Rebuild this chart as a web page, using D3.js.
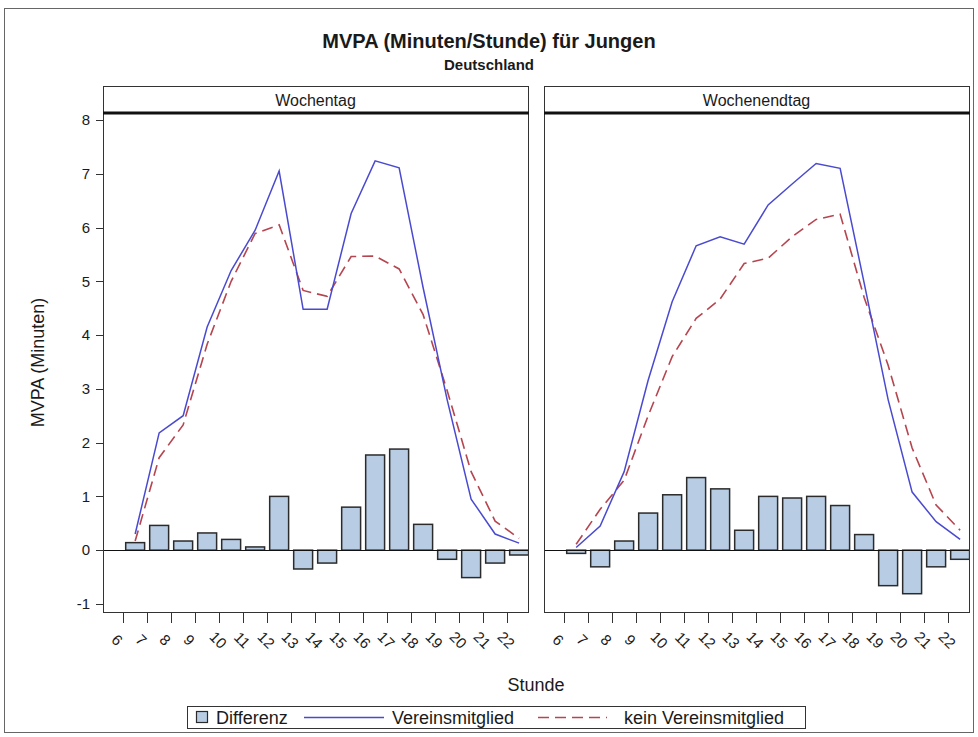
<!DOCTYPE html>
<html><head><meta charset="utf-8">
<script src="https://cdn.jsdelivr.net/npm/d3@7"></script>
<style>body{margin:0;background:#fff;}svg{display:block;font-family:"Liberation Sans",Arial,sans-serif;}</style>
</head><body>
<svg id="c" width="978" height="737"></svg>
<script>
const hours = [6,7,8,9,10,11,12,13,14,15,16,17,18,19,20,21,22];
const yTicks = [-1,0,1,2,3,4,5,6,7,8];
const panels = ["Wochentag","Wochenendtag"];
// Wochentag
const wtVerein = [0.30,2.18,2.50,4.15,5.20,5.95,7.05,4.48,4.48,6.26,7.24,7.11,4.88,2.80,0.95,0.30,0.13];
const wtKein   = [0.17,1.72,2.33,3.83,5.00,5.89,6.05,4.83,4.72,5.46,5.47,5.23,4.38,2.97,1.46,0.54,0.22];
const wtDiff   = [0.14,0.46,0.17,0.32,0.20,0.06,1.00,-0.35,-0.24,0.80,1.77,1.88,0.48,-0.17,-0.51,-0.24,-0.09];
// Wochenendtag
const weVerein = [0.05,0.45,1.46,3.16,4.62,5.66,5.83,5.69,6.42,6.81,7.19,7.10,4.97,2.80,1.08,0.53,0.20];
const weKein   = [0.11,0.76,1.30,2.50,3.60,4.31,4.67,5.33,5.43,5.83,6.15,6.25,4.70,3.44,1.90,0.84,0.37];
const weDiff   = [-0.06,-0.31,0.17,0.69,1.03,1.35,1.14,0.37,1.00,0.97,1.00,0.83,0.29,-0.66,-0.81,-0.31,-0.17];
const title = "MVPA (Minuten/Stunde) für Jungen";
const subtitle = "Deutschland";
const yLabel = "MVPA (Minuten)";
const xLabel = "Stunde";
const legendLabels = ["Differenz","Vereinsmitglied","kein Vereinsmitglied"];

const data = [
  {name: panels[0], verein: wtVerein, kein: wtKein, diff: wtDiff},
  {name: panels[1], verein: weVerein, kein: weKein, diff: weDiff}
];

const svg = d3.select("#c");
const barFill = "#b8cde4", barStroke = "#2b2b2b", blue = "#4a4ad0", red = "#b5454f";
const frameColor = "#333", textColor = "#1a1a1a";

svg.append("rect").attr("x",4.5).attr("y",8.5).attr("width",969).attr("height",724)
  .attr("fill","none").attr("stroke","#666").attr("stroke-width",1);

svg.append("text").attr("x",489).attr("y",48).attr("text-anchor","middle")
  .attr("font-weight","bold").attr("font-size",20).attr("fill",textColor).text(title);
svg.append("text").attr("x",489).attr("y",70).attr("text-anchor","middle")
  .attr("font-weight","bold").attr("font-size",15).attr("fill",textColor).text(subtitle);

const plotTop = 113, plotBottom = 612, stripTop = 86;
const panelX = [103, 544], panelW = 425;
const y = d3.scaleLinear().domain([-1.15, 8.13]).range([plotBottom, plotTop]);

data.forEach((p, i) => {
  const x0 = panelX[i];
  const x = d3.scaleLinear().domain([5.16, 22.87]).range([x0, x0 + panelW]);
  const g = svg.append("g");
  const cid = "clip" + i;
  svg.append("clipPath").attr("id", cid).append("rect")
    .attr("x", x0).attr("y", plotTop).attr("width", panelW).attr("height", plotBottom - plotTop);
  const pg = g.append("g").attr("clip-path", `url(#${cid})`);
  g.append("rect").attr("x", x0 + 0.5).attr("y", stripTop + 0.5).attr("width", panelW).attr("height", plotTop - stripTop)
    .attr("fill", "#fff").attr("stroke", frameColor);
  g.append("text").attr("x", x0 + panelW / 2).attr("y", stripTop + 20).attr("text-anchor", "middle")
    .attr("font-size", 16).attr("fill", textColor).text(p.name);
  const bw = 0.83;
  pg.selectAll("rect.bar").data(hours).join("rect").attr("class", "bar")
    .attr("x", (h) => x(h + 0.5 - bw / 2) + 0.5)
    .attr("width", (h) => x(h + bw) - x(h) - 1)
    .attr("y", (h, j) => y(Math.max(0, p.diff[j])))
    .attr("height", (h, j) => Math.abs(y(p.diff[j]) - y(0)))
    .attr("fill", barFill).attr("stroke", barStroke).attr("stroke-width", 1.5);
  pg.append("line").attr("x1", x0).attr("x2", x0 + panelW).attr("y1", Math.round(y(0)) + 0.5).attr("y2", Math.round(y(0)) + 0.5)
    .attr("stroke", "#111").attr("stroke-width", 1.2);
  const line = (vals) => d3.line().x((h) => x(h + 0.5)).y((h, j) => y(vals[j]))(hours);
  pg.append("path").attr("d", line(p.kein)).attr("fill", "none").attr("stroke", red)
    .attr("stroke-width", 1.6).attr("stroke-dasharray", "11,6");
  pg.append("path").attr("d", line(p.verein)).attr("fill", "none").attr("stroke", blue)
    .attr("stroke-width", 1.5);
  g.append("rect").attr("x", x0 + 0.5).attr("y", plotTop + 0.5).attr("width", panelW).attr("height", plotBottom - plotTop)
    .attr("fill", "none").attr("stroke", frameColor);
  g.append("line").attr("x1", x0).attr("x2", x0 + panelW + 1).attr("y1", plotTop).attr("y2", plotTop)
    .attr("stroke", "#111").attr("stroke-width", 3);
  const xa = g.append("g").attr("transform", `translate(0,${plotBottom})`);
  xa.selectAll("line").data(hours).join("line")
    .attr("x1", (h) => Math.round(x(h)) + 0.5).attr("x2", (h) => Math.round(x(h)) + 0.5)
    .attr("y1", 0).attr("y2", 11).attr("stroke", frameColor);
  xa.selectAll("text").data(hours).join("text")
    .attr("transform", (h) => `translate(${x(h) - (h < 10 ? 6 : 1)},${28}) rotate(45)`)
    .attr("text-anchor", "middle").attr("dy", "0.35em")
    .attr("font-size", 15).attr("fill", textColor).text((h) => h);
  if (i === 0) {
    const ya = g.append("g");
    ya.selectAll("line").data(yTicks).join("line")
      .attr("x1", x0 - 7).attr("x2", x0).attr("y1", (v) => Math.round(y(v)) + 0.5).attr("y2", (v) => Math.round(y(v)) + 0.5)
      .attr("stroke", frameColor);
    ya.selectAll("text").data(yTicks).join("text")
      .attr("x", x0 - 13).attr("y", (v) => y(v)).attr("dy", "0.35em").attr("text-anchor", "end")
      .attr("font-size", 15).attr("fill", textColor).text((v) => v);
  }
});

svg.append("text").attr("transform", `translate(44,${(plotTop + plotBottom) / 2}) rotate(-90)`)
  .attr("text-anchor", "middle").attr("font-size", 18).attr("fill", textColor).text(yLabel);
svg.append("text").attr("x", 536).attr("y", 691).attr("text-anchor", "middle")
  .attr("font-size", 18).attr("fill", textColor).text(xLabel);

const lg = svg.append("g");
lg.append("rect").attr("x", 187.5).attr("y", 706.5).attr("width", 618).attr("height", 22)
  .attr("fill", "#fff").attr("stroke", frameColor);
lg.append("rect").attr("x", 196.5).attr("y", 711.5).attr("width", 11).attr("height", 11)
  .attr("fill", barFill).attr("stroke", barStroke).attr("stroke-width", 1.2);
lg.append("text").attr("x", 216).attr("y", 724).attr("font-size", 18).attr("fill", textColor).text(legendLabels[0]);
lg.append("line").attr("x1", 304).attr("x2", 384).attr("y1", 717.5).attr("y2", 717.5).attr("stroke", blue).attr("stroke-width", 1.5);
lg.append("text").attr("x", 392).attr("y", 724).attr("font-size", 18).attr("fill", textColor).text(legendLabels[1]);
lg.append("line").attr("x1", 538).attr("x2", 607).attr("y1", 717.5).attr("y2", 717.5).attr("stroke", red)
  .attr("stroke-width", 1.6).attr("stroke-dasharray", "11,6");
lg.append("text").attr("x", 624).attr("y", 724).attr("font-size", 18).attr("fill", textColor).text(legendLabels[2]);
</script>
</body></html>
